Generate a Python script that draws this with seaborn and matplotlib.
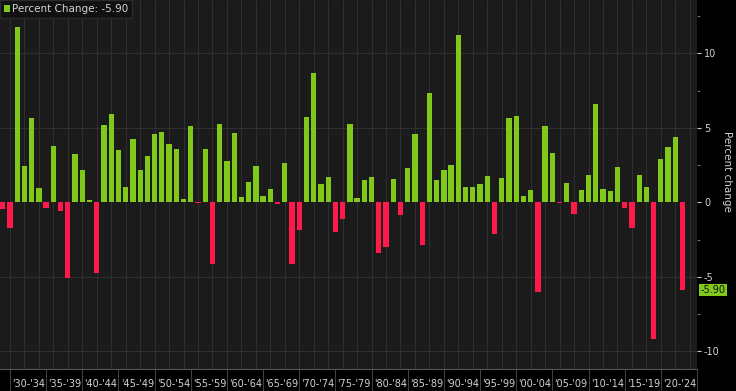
import matplotlib
matplotlib.use("Agg")
import matplotlib.pyplot as plt
import seaborn as sns
import pandas as pd
from matplotlib.patches import Patch

# ---- data ----
years = list(range(1929, 2024))
pct_change = [
    -0.45, -1.75, 11.75, 2.46, 5.66, 0.94, -0.40, 3.80, -0.56, -5.06,
    3.24, 2.15, 0.13, -4.72, 5.19, 5.91, 3.51, 1.03, 4.27, 2.17,
    3.09, 4.59, 4.74, 3.91, 3.60, 0.22, 5.10, -0.05, 3.56, -4.12,
    5.23, 2.80, 4.63, 0.36, 1.39, 2.46, 0.43, 0.92, -0.11, 2.66,
    -4.16, -1.86, 5.73, 8.66, 1.21, 1.68, -1.99, -1.12, 5.28, 0.31,
    1.50, 1.72, -3.42, -3.02, 1.54, -0.87, 2.28, 4.56, -2.84, 7.32,
    1.50, 2.17, 2.51, 11.23, 1.05, 1.05, 1.25, 1.79, -2.13, 1.63,
    5.68, 5.82, 0.43, 0.81, -6.00, 5.12, 3.29, -0.07, 1.32, -0.81,
    0.81, 1.83, 6.58, 0.87, 0.74, 2.39, -0.40, -1.75, 1.83, 1.01,
    -9.17, 2.91, 3.74, 4.41, -5.90,
]
group_labels = ["'30-'34", "'35-'39", "'40-'44", "'45-'49", "'50-'54", "'55-'59",
                "'60-'64", "'65-'69", "'70-'74", "'75-'79", "'80-'84", "'85-'89",
                "'90-'94", "'95-'99", "'00-'04", "'05-'09", "'10-'14", "'15-'19",
                "'20-'24"]
group_starts = list(range(1930, 2021, 5))
y_ticks = [10, 5, 0, -5, -10]
last_value = pct_change[-1]

GREEN = "#80c81a"
RED = "#ff1a4b"
FIG_BG = "#000000"
AX_BG = "#1b1b1b"
GRID = "#303030"
TXT = "#d2d2d2"

df = pd.DataFrame({"year": years, "pct": pct_change})
df["sign"] = ["up" if v >= 0 else "down" for v in df["pct"]]

sns.set_style("dark")
plt.rcParams["font.family"] = ["DejaVu Sans"]

fig = plt.figure(figsize=(7.36, 3.91), dpi=100, facecolor=FIG_BG)
ax = fig.add_axes([0.0, 22 / 391, 697 / 736, 369 / 391])
ax.set_facecolor(AX_BG)

sns.barplot(data=df, x="year", y="pct", hue="sign",
            palette={"up": GREEN, "down": RED}, native_scale=True,
            dodge=False, width=0.73, errorbar=None, legend=False,
            saturation=1, edgecolor=None, linewidth=0, ax=ax, zorder=3)

ax.set_xlim(1928.62, 2024.62)
ax.set_ylim(-11.19, 13.58)

# grid lines
for yv in [10, 5, -5, -10]:
    ax.axhline(yv, color=GRID, lw=0.7, zorder=1)
for xv in range(1930, 2025, 2):
    ax.axvline(xv, color=GRID, lw=0.7, zorder=1)

for s in ["top", "left", "right"]:
    ax.spines[s].set_visible(False)
ax.spines["bottom"].set_color("#555555")
ax.spines["bottom"].set_linewidth(0.8)

# x axis: long ticks at group boundaries, labels at group centers
ax.set_xticks(group_starts + [2025])
ax.set_xticklabels([])
ax.tick_params(axis="x", which="major", length=16, width=0.7, color="#444444",
               direction="out", bottom=True)
ax.set_xticks([g + 2.6 for g in group_starts], group_labels, minor=True)
ax.tick_params(axis="x", which="minor", length=0, pad=7, labelsize=7,
               labelcolor=TXT)

# y axis on the right
ax.yaxis.tick_right()
ax.yaxis.set_label_position("right")
ax.set_yticks(y_ticks)
ax.set_yticklabels([str(v) for v in y_ticks])
ax.set_yticks([12.5, 7.5, 2.5, -2.5, -7.5], minor=True)
ax.tick_params(axis="y", which="major", length=3, width=0.8, color="#cccccc",
               pad=2, labelsize=7, labelcolor=TXT, right=True, left=False)
ax.tick_params(axis="y", which="minor", length=2, width=0.6, color="#888888",
               right=True, left=False)
ax.set_xlabel("")
ax.set_ylabel("Percent change", rotation=270, color=TXT, fontsize=7.5)
ax.yaxis.set_label_coords(1.05, 0.535)
ax.grid(False)

# last value tag
ax.annotate(f"{last_value:.2f}", xy=(1.0, last_value),
            xycoords=("axes fraction", "data"), xytext=(2.5, 0),
            textcoords="offset points", ha="left", va="center",
            fontsize=7, color="#111111", annotation_clip=False,
            bbox=dict(boxstyle="square,pad=0.12", fc=GREEN, ec="none"))

# legend
leg = ax.legend(handles=[Patch(facecolor=GREEN, edgecolor="none")],
                labels=[f"Percent Change: {last_value:.2f}"],
                loc="upper left", bbox_to_anchor=(0.0, 1.0),
                frameon=True, fontsize=7.5, handlelength=0.55, handleheight=0.55,
                handletextpad=0.2, borderpad=0.4, borderaxespad=0.0,
                labelcolor=TXT, facecolor="#111111", edgecolor="#2a2a2a",
                fancybox=False, framealpha=1.0)
leg.set_zorder(5)

fig.savefig("out.png", dpi=100, facecolor=FIG_BG)
